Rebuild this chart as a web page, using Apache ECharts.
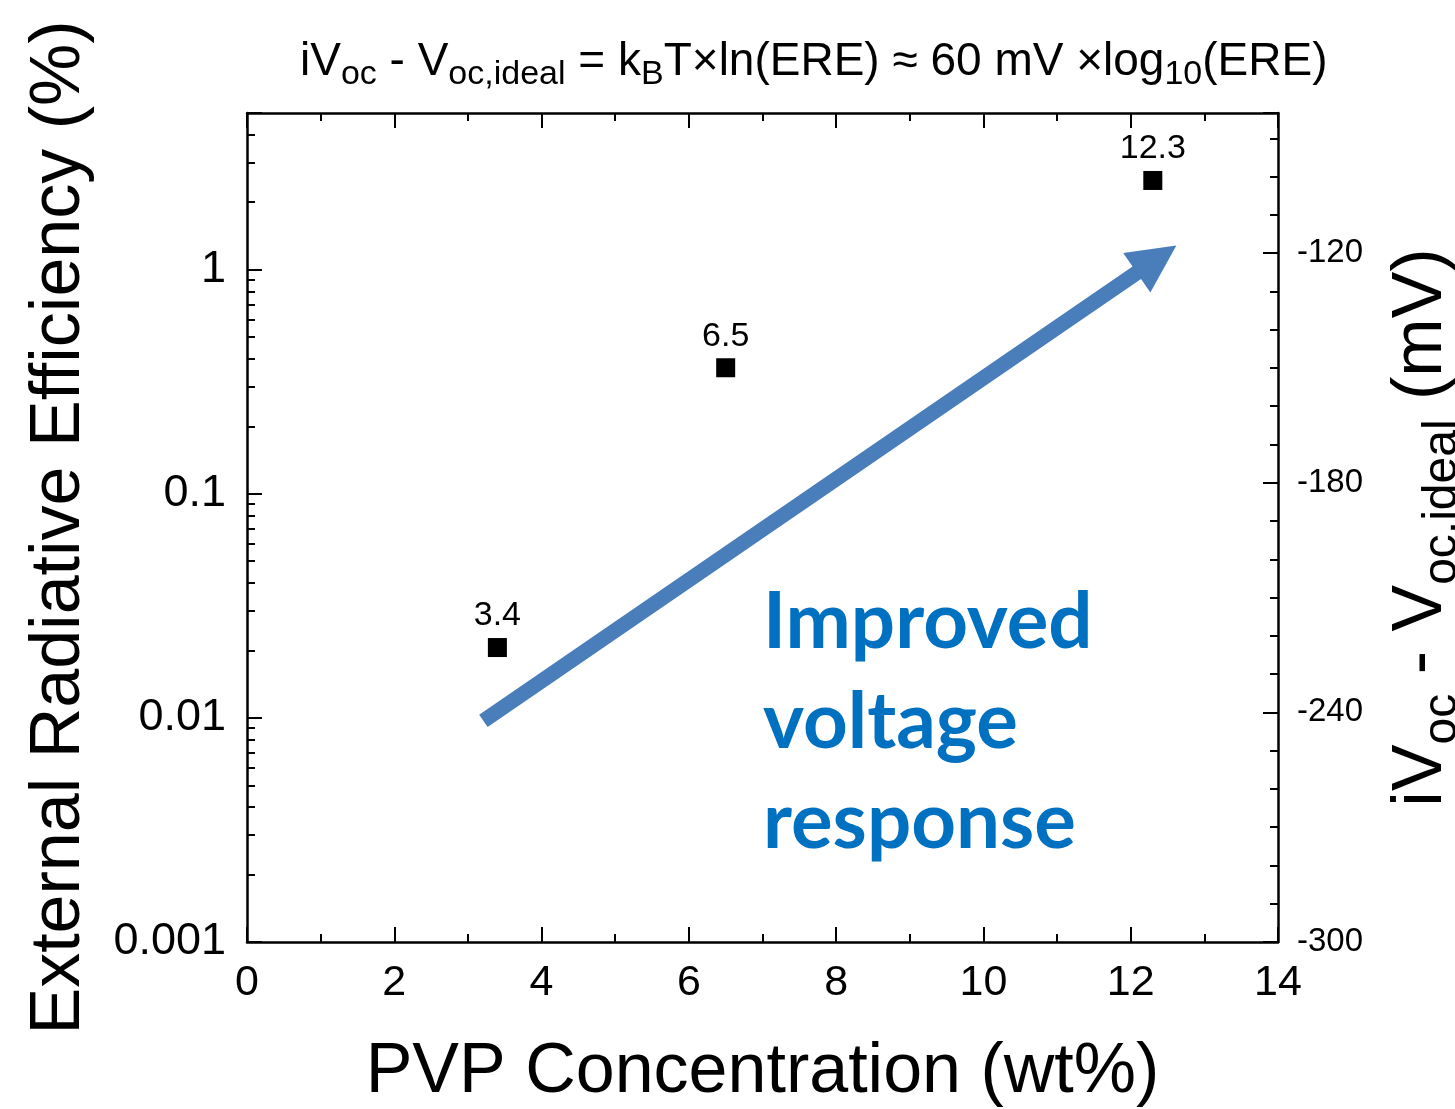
<!DOCTYPE html>
<html>
<head>
<meta charset="utf-8">
<script src="https://cdn.jsdelivr.net/npm/echarts@6/dist/echarts.min.js"></script>
<style>
html,body{margin:0;padding:0;background:#fff;}
#c{width:1455px;height:1109px;}
</style>
</head>
<body>
<div id="c"></div>
<script>
// ---- data ----
const pvpConc = [3.4, 6.5, 12.3];
const ereValues = [0.0206, 0.365, 2.5];
const pointLabels = ['3.4', '6.5', '12.3'];
const leftTickLabels = ['0.001', '0.01', '0.1', '1'];
const rightTickLabels = ['-300', '-240', '-180', '-120'];
const arrowFrom = [3.21, 0.0097];
const arrowTo = [12.62, 1.28];
const annotationLines = ['Improved', 'voltage', 'response'];

const FONT = '"Liberation Sans", Arial, sans-serif';
const black = '#000';

const chart = echarts.init(document.getElementById('c'));

const axisLineStyle = { onZero: false, lineStyle: { color: black, width: 2.5 } };
const tickStyle = { inside: true, length: 15, lineStyle: { color: black, width: 2 } };
const minorStyle = (n) => ({ show: true, splitNumber: n, length: 8, lineStyle: { color: black, width: 2 } });

const option = {
  animation: false,
  backgroundColor: '#fff',
  textStyle: { fontFamily: FONT, color: black },
  title: {
    left: 300, top: 32, padding: 0,
    text: '{m|iV}{s|oc}{m| - V}{s|oc,ideal}{m| = k}{s|B}{m|T×ln(ERE) ≈ 60 mV ×log}{s|10}{m|(ERE)}',
    textStyle: {
      fontFamily: FONT, fontWeight: 'normal',
      rich: {
        m: { fontSize: 46, lineHeight: 60, color: black, fontFamily: FONT, fontWeight: 'normal' },
        s: { fontSize: 34, lineHeight: 34, verticalAlign: 'bottom', color: black, fontFamily: FONT, fontWeight: 'normal' }
      }
    }
  },
  grid: { left: 247, right: 177, top: 113, bottom: 167, containLabel: false, outerBoundsMode: 'none' },
  xAxis: [
    {
      type: 'value', position: 'bottom', min: 0, max: 14, interval: 2,
      axisLine: axisLineStyle, axisTick: tickStyle, minorTick: minorStyle(2),
      splitLine: { show: false },
      axisLabel: { fontSize: 43, margin: 20, color: black, fontFamily: FONT },
      name: 'PVP Concentration (wt%)', nameLocation: 'middle', nameGap: 96,
      nameTextStyle: { fontSize: 70, lineHeight: 70, color: black, fontFamily: FONT }
    },
    {
      type: 'value', position: 'top', min: 0, max: 14, interval: 2,
      axisLine: axisLineStyle, axisTick: tickStyle, minorTick: minorStyle(2),
      splitLine: { show: false }, axisLabel: { show: false }
    }
  ],
  yAxis: [
    {
      type: 'log', logBase: 10, position: 'left', min: 0.001, max: 5,
      axisLine: axisLineStyle, axisTick: tickStyle, minorTick: minorStyle(9),
      splitLine: { show: false }, minorSplitLine: { show: false },
      axisLabel: {
        fontSize: 45, margin: 21, color: black, fontFamily: FONT,
        formatter: (v) => {
          const s = leftTickLabels.find(l => Math.abs(parseFloat(l) - v) / v < 1e-6);
          return s || '';
        }
      },
      name: 'External Radiative Efficiency (%)', nameLocation: 'middle', nameGap: 152, nameRotate: 90,
      nameTextStyle: { fontSize: 70, lineHeight: 70, color: black, fontFamily: FONT }
    },
    {
      type: 'value', position: 'right', min: -300, max: -83.4, interval: 60,
      axisLine: axisLineStyle, axisTick: tickStyle, minorTick: minorStyle(6),
      splitLine: { show: false },
      axisLabel: {
        fontSize: 33, margin: 19, color: black, fontFamily: FONT,
        formatter: (v) => rightTickLabels.includes(String(Math.round(v))) && Math.abs(v - Math.round(v)) < 1e-6 ? String(Math.round(v)) : ''
      },
      name: '{m|iV}{s|oc}{m| - V}{s|oc,ideal}{m| (mV)}', nameLocation: 'middle', nameGap: 99, nameRotate: 90,
      nameTextStyle: {
        fontFamily: FONT,
        rich: {
          m: { fontSize: 70, lineHeight: 90, color: black, fontFamily: FONT },
          s: { fontSize: 48, lineHeight: 48, verticalAlign: 'bottom', color: black, fontFamily: FONT }
        }
      }
    }
  ],
  series: [
    {
      type: 'scatter', xAxisIndex: 0, yAxisIndex: 0,
      symbol: 'rect', symbolSize: 19,
      itemStyle: { color: black, opacity: 1 },
      data: pvpConc.map((x, i) => [x, ereValues[i]]),
      label: {
        show: true, position: 'top', distance: 5,
        fontSize: 34, color: black, opacity: 1, fontFamily: FONT,
        formatter: (p) => pointLabels[p.dataIndex]
      },
      emphasis: { disabled: true },
      z: 5
    }
  ]
};

chart.setOption(option);

// arrow annotation anchored in data coordinates
const p0 = chart.convertToPixel({ xAxisIndex: 0, yAxisIndex: 0 }, arrowFrom);
const p1 = chart.convertToPixel({ xAxisIndex: 0, yAxisIndex: 0 }, arrowTo);
const dx = p1[0] - p0[0], dy = p1[1] - p0[1];
const len = Math.hypot(dx, dy);
const ux = dx / len, uy = dy / len, nx = -uy, ny = ux;
const shaftW = 15, headW = 48, headL = 48;
const bx = p1[0] - ux * headL, by = p1[1] - uy * headL;
const pts = [
  [p0[0] + nx * shaftW / 2, p0[1] + ny * shaftW / 2],
  [bx + nx * shaftW / 2, by + ny * shaftW / 2],
  [bx + nx * headW / 2, by + ny * headW / 2],
  [p1[0], p1[1]],
  [bx - nx * headW / 2, by - ny * headW / 2],
  [bx - nx * shaftW / 2, by - ny * shaftW / 2],
  [p0[0] - nx * shaftW / 2, p0[1] - ny * shaftW / 2]
];

const textBaselines = [623, 723, 823];
chart.setOption({
  graphic: [
    { type: 'polygon', shape: { points: pts }, style: { fill: '#4a7ebb' }, z: 10 }
  ].concat(annotationLines.map((t, i) => ({
    type: 'text', x: 763, y: textBaselines[i], z: 11,
    style: {
      text: t, fill: '#0070c0',
      font: 'bold 78px Lato, "Open Sans", sans-serif',
      textAlign: 'left', textVerticalAlign: 'middle', align: 'left', verticalAlign: 'middle'
    }
  })))
});
</script>
</body>
</html>
